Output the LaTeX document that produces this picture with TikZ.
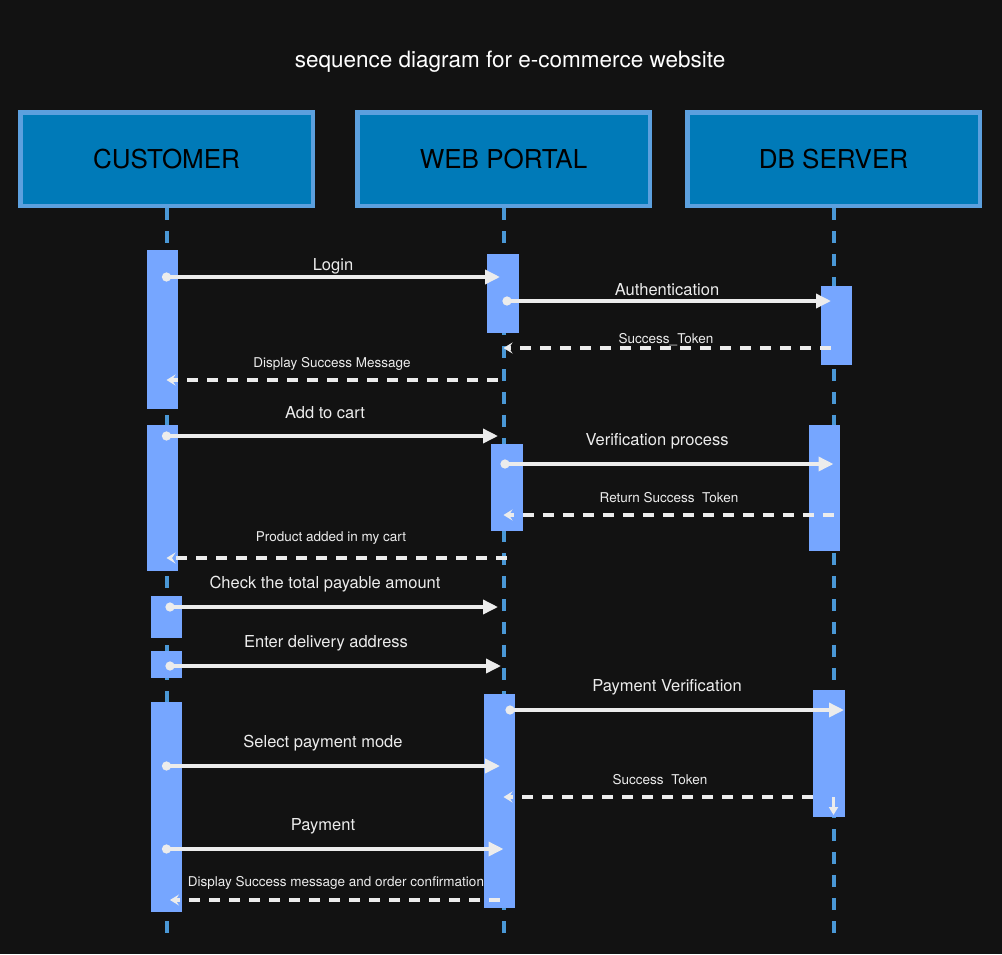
\documentclass[tikz,border=0pt]{standalone}
\usepackage{fontspec}
\setmainfont{TeX Gyre Heros}
\usepackage{tikz}
\usetikzlibrary{arrows.meta,calc,positioning}
\definecolor{bgc}{RGB}{18,18,18}
\definecolor{hdfill}{RGB}{0,122,184}
\definecolor{hdline}{RGB}{92,160,222}
\definecolor{lifec}{RGB}{74,152,214}
\definecolor{acfill}{RGB}{118,166,255}
\definecolor{arwc}{RGB}{236,236,236}
\tikzstyle{hd}=[rectangle,line width=4.5pt,minimum width=292.5pt,minimum height=93.5pt,draw=hdline,fill=hdfill,text=black,font=\fontsize{26}{31}\selectfont]
\tikzstyle{ac}=[rectangle,inner sep=0pt,minimum width=31.5pt,fill=acfill]
\tikzstyle{life}=[line width=4pt,draw=lifec,dash pattern=on 12pt off 11pt]
\tikzstyle{lbl}=[text=arwc,inner sep=1pt,font=\fontsize{16.5}{20}\selectfont]
\tikzstyle{slbl}=[text=arwc,inner sep=1pt,font=\fontsize{13.5}{16}\selectfont]
\tikzset{
	msg/.style={line width=3.5pt,draw=arwc,shorten <=-4.5pt,{Circle[length=9pt]}-{Triangle[length=15pt,width=14pt]}},
	rep/.style={line width=3.2pt,draw=arwc,dash pattern=on 11pt off 9pt,-{Stealth[length=9pt,width=11pt,inset=3.5pt]}}
}

\begin{document}
\begin{tikzpicture}[x=1pt,y=-1pt]
    \fill[bgc] (0,0) rectangle (1002,954);
    \node (ttl) [text=white,font=\fontsize{22.5}{27}\selectfont] at (510,62) {sequence diagram for e-commerce website};

    \node (cust) [hd] at (166.5,159) {CUSTOMER};
    \node (web) [hd,right=40pt of cust] {WEB PORTAL};
    \node (db) [hd,right=33pt of web] {DB SERVER};

    \draw[life] (cust.south) -- (cust.south |- 0,934);
    \draw[life] (web.south) -- (web.south |- 0,934);
    \draw[life] (db.south) -- (db.south |- 0,940);

    \node (ca1) [ac,minimum height=159pt] at (162.5,329.5) {};
    \node (ca2) [ac,minimum height=146pt] at (162.5,498) {};
    \node (ca3) [ac,minimum height=42pt] at (166.5,617) {};
    \node (ca4) [ac,minimum height=27pt] at (166.5,664.5) {};
    \node (ca5) [ac,minimum height=210pt] at (166.5,807) {};
    \node (wa1) [ac,minimum height=79pt] at (503,293.5) {};
    \node (wa2) [ac,minimum height=87pt] at (507,487.5) {};
    \node (wa3) [ac,minimum height=214pt] at (499.5,801) {};
    \node (da1) [ac,minimum height=79pt] at (836.5,325.5) {};
    \node (da2) [ac,minimum height=126pt] at (824.5,488) {};
    \node (da3) [ac,minimum height=127pt] at (829,753.5) {};

    \draw[msg] (cust |- 0,277) -- ($(web |- 0,277)+(-3.5,0)$);
    \node (l1) [lbl] at (333,266) {Login};
    \draw[msg] ($(web |- 0,301)+(3.5,0)$) -- ($(db |- 0,301)+(-2.5,0)$);
    \node (l2) [lbl] at (667,290) {Authentication};
    \draw[rep] ($(db |- 0,348)+(-2.5,0)$) -- (web |- 0,348);
    \node (l3) [slbl] at (666,340) {Success\_Token};
    \draw[rep] ($(web |- 0,380)+(-6,0)$) -- (cust |- 0,380);
    \node (l4) [slbl] at (332,364) {Display Success Message};

    \draw[msg] (cust |- 0,436) -- ($(web |- 0,436)+(-5.5,0)$);
    \node (l5) [lbl] at (325,413) {Add to cart};
    \draw[msg] ($(web |- 0,464)+(1.5,0)$) -- (db |- 0,464);
    \node (l6) [lbl] at (657,441) {Verification process};
    \draw[rep] (db |- 0,515) -- (web |- 0,515);
    \node (l7) [slbl] at (669,498) {Return Success\ \ Token};
    \draw[rep] ($(web |- 0,558)+(3.5,0)$) -- (cust |- 0,558);
    \node (l8) [slbl] at (331,538) {Product added in my cart};

    \draw[msg] ($(cust |- 0,607)+(3.5,0)$) -- ($(web |- 0,607)+(-5.5,0)$);
    \node (l9) [lbl] at (325,584) {Check the total payable amount};
    \draw[msg] ($(cust |- 0,666)+(3.5,0)$) -- ($(web |- 0,666)+(-2.5,0)$);
    \node (l10) [lbl] at (326,643) {Enter delivery address};

    \draw[msg] ($(web |- 0,710)+(6.5,0)$) -- ($(db |- 0,710)+(10.5,0)$);
    \node (l11) [lbl] at (667,687) {Payment Verification};
    \draw[msg] (cust |- 0,766) -- ($(web |- 0,766)+(-3.5,0)$);
    \node (l12) [lbl] at (323,743) {Select payment mode};
    \draw[rep] ($(db |- 0,797)+(-20.5,0)$) -- (web |- 0,797);
    \node (l13) [slbl] at (660,780) {Success\ \ Token};
    \draw[line width=3pt,draw=arwc,-{Triangle[length=8pt,width=9pt]}] (db |- 0,797) -- (db |- 0,815);
    \draw[msg] (cust |- 0,849) -- (web |- 0,849);
    \node (l14) [lbl] at (323,826) {Payment};
    \draw[rep] ($(web |- 0,900)+(-3.5,0)$) -- ($(cust |- 0,900)+(3.5,0)$);
    \node (l15) [slbl] at (336,883) {Display Success message and order confirmation};
\end{tikzpicture}
\end{document}
